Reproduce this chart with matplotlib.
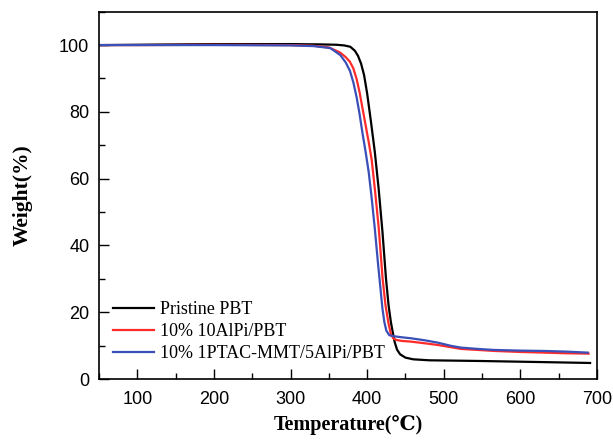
import matplotlib
matplotlib.use("Agg")
import matplotlib.pyplot as plt
from matplotlib.ticker import MultipleLocator

# Data (Temperature in °C, Weight in %)
pbt_T = [50, 100, 200, 300, 340, 360, 370, 378, 384, 388, 392, 396, 400, 405, 410,
         415, 420, 424.6, 428, 431, 433, 436, 439, 443, 450, 460, 481, 546, 620, 691]
pbt_W = [100.0, 100.1, 100.3, 100.3, 100.2, 100.1, 99.9, 99.5, 98.3, 96.8, 94.5, 91.0,
         85.5, 77.0, 68.0, 57.0, 44.0, 30.0, 22.0, 17.0, 14.5, 11.0, 8.8, 7.4, 6.4, 5.9,
         5.6, 5.4, 5.1, 4.8]

alpi_T = [50, 100, 200, 300, 330, 350, 364.5, 372, 377.5, 382, 386.3, 390, 394, 398,
          402, 406, 410, 415, 420.2, 424, 428, 431, 434, 438, 445, 457, 475, 492, 510,
          522.5, 545, 566, 600, 631, 660, 689]
alpi_W = [100.0, 100.0, 100.1, 100.0, 99.8, 99.3, 97.8, 96.4, 95.0, 93.0, 89.8, 86.0,
          81.0, 76.0, 71.0, 65.5, 57.0, 45.5, 30.0, 22.0, 16.5, 13.5, 12.2, 11.7, 11.4,
          11.2, 10.7, 10.2, 9.5, 9.0, 8.7, 8.4, 8.1, 7.9, 7.7, 7.6]

mmt_T = [50, 100, 200, 300, 330, 352, 365, 372, 377.5, 382, 386.3, 390, 394, 398, 402,
         406, 410, 414, 417, 420, 422.5, 425, 429, 435, 445, 457, 475, 492, 510, 522.5,
         545, 566, 600, 631, 660, 688]
mmt_W = [100.0, 100.0, 100.0, 99.9, 99.7, 99.1, 97.0, 94.8, 92.3, 88.8, 84.3, 79.5,
         73.5, 68.0, 62.0, 54.0, 45.0, 35.0, 28.0, 21.0, 17.0, 14.5, 13.1, 12.8, 12.5,
         12.2, 11.6, 10.9, 9.9, 9.4, 9.0, 8.7, 8.5, 8.4, 8.2, 7.9]

labels = ["Pristine PBT", "10% 10AlPi/PBT", "10% 1PTAC-MMT/5AlPi/PBT"]
colors = ["#000000", "#FF2A2A", "#3A4FB8"]

fig = plt.figure(figsize=(6.13, 4.41), dpi=100)
ax = fig.add_axes([99/613, 1 - 379/441, 498/613, 367.3/441])

for T, W, lab, c in zip([pbt_T, alpi_T, mmt_T], [pbt_W, alpi_W, mmt_W], labels, colors):
    ax.plot(T, W, color=c, lw=1.6, label=lab, solid_joinstyle="round")

ax.set_xlim(50, 700)
ax.set_ylim(0, 110)
ax.xaxis.set_major_locator(MultipleLocator(100))
ax.xaxis.set_minor_locator(MultipleLocator(50))
ax.yaxis.set_major_locator(MultipleLocator(20))
ax.yaxis.set_minor_locator(MultipleLocator(10))
ax.set_xticks([100, 200, 300, 400, 500, 600, 700])
ax.tick_params(which="both", direction="in", top=False, right=False, width=1.0)
ax.tick_params(which="major", length=7, labelsize=13)
ax.tick_params(axis="x", which="major", pad=9)
ax.tick_params(axis="y", which="major", pad=7)
ax.tick_params(which="minor", length=4)
for lbl in ax.get_xticklabels() + ax.get_yticklabels():
    lbl.set_fontfamily("Liberation Sans")
for s in ax.spines.values():
    s.set_linewidth(1.2)

ax.set_xlabel("Temperature(℃)", fontsize=14.5, fontweight="bold",
              family=["Liberation Serif", "DejaVu Serif", "DejaVu Sans"], labelpad=5)
ax.set_ylabel("Weight(%)", fontsize=15.5, fontweight="bold",
              family=["Liberation Serif", "DejaVu Serif"], labelpad=19)

leg = ax.legend(loc="lower left", bbox_to_anchor=(0.028, 0.045), frameon=False,
                borderpad=0, borderaxespad=0, handlelength=2.3, handletextpad=0.28,
                labelspacing=0.28,
                prop={"family": "Liberation Serif", "size": 13})

fig.savefig("out.png", dpi=100)
